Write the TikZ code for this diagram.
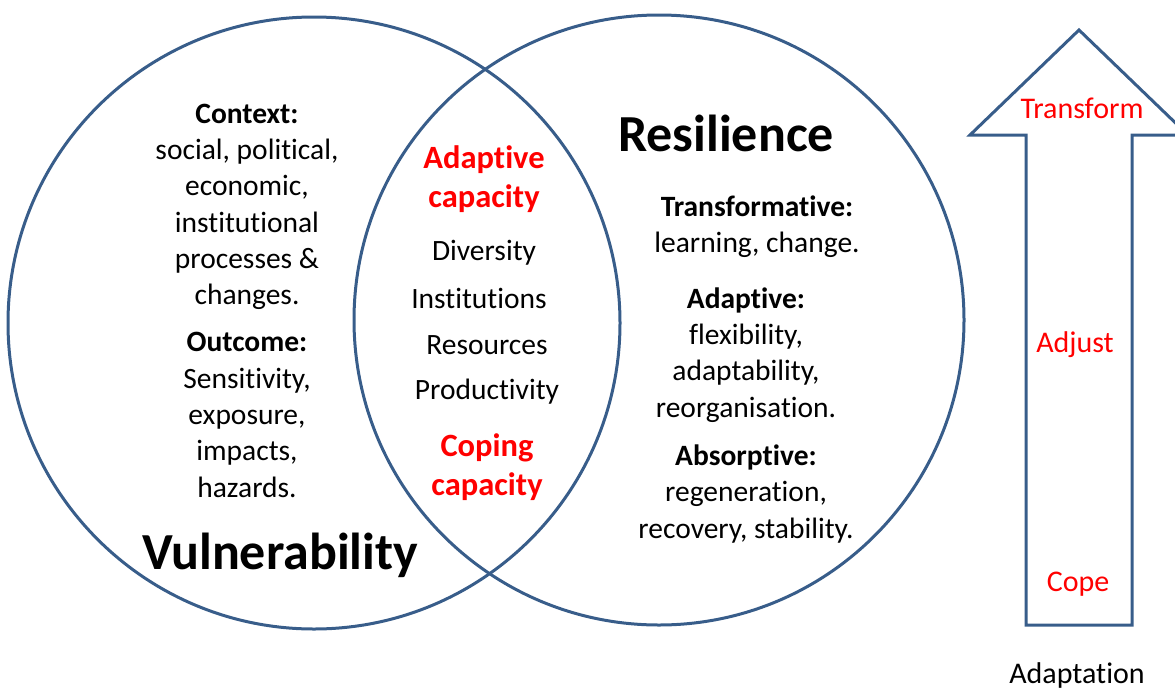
\documentclass[tikz,border=0pt]{standalone}
\usepackage{fontspec}
\setmainfont{Carlito}[Ligatures=NoCommon]
\usetikzlibrary{positioning}
\definecolor{vennblue}{RGB}{56,93,138}
\definecolor{capred}{RGB}{255,0,0}

\begin{document}
\begin{tikzpicture}[x=1pt, y=-1pt,
    venn/.style={draw=vennblue, line width=3pt},
    txt/.style={align=center, inner sep=0pt, font=\fontsize{29.5}{36.3}\selectfont},
    head/.style={inner sep=0pt, font=\fontsize{52}{60}\selectfont\bfseries},
    capred/.style={align=center, inner sep=0pt, text=capred, font=\fontsize{32.5}{39.5}\selectfont\bfseries},
    level/.style={inner sep=0pt, font=\fontsize{30}{36}\selectfont}]
      \useasboundingbox (0, 0) rectangle (1175, 691);
      \clip (0, 0) rectangle (1175, 691);

      % the two sets
      \draw[venn] (314, 323) circle (306pt);
      \draw[venn] (659, 320) circle (305pt);

      % adaptation arrow
      \draw[venn, line join=miter] (1079, 30) -- (1188, 135) -- (1132, 135) -- (1132, 625)
        -- (1026, 625) -- (1026, 135) -- (970, 135) -- cycle;

      % vulnerability side
      \node[txt] (context) at (247, 207) {\textbf{Context:}\\ social, political,\\ economic,\\ institutional\\ processes \&\\ changes.};
      \node[txt] (outcome) at (247, 415) {\textbf{Outcome:}\\ Sensitivity,\\ exposure,\\ impacts,\\ hazards.};
      \node[head] (vuln) at (280, 555) {Vulnerability};

      % overlap
      \node[capred] (adcap) at (484, 179) {Adaptive\\ capacity};
      \node[txt] (diversity) at (484, 253) {Diversity};
      \node[txt] (instit) at (479, 298) {Institutions};
      \node[txt] (resources) at (487, 345) {Resources};
      \node[txt] (product) at (487, 392) {Productivity};
      \node[capred] (copcap) at (487, 467) {Coping\\ capacity};

      % resilience side
      \node[head] (resil) at (726, 133) {Resilience};
      \node[txt] (transf) at (757, 227) {\textbf{Transformative:}\\ learning, change.};
      \node[txt] (adapt) at (746, 355) {\textbf{Adaptive:}\\ flexibility,\\ adaptability,\\ reorganisation.};
      \node[txt] (absorb) at (746, 494) {\textbf{Absorptive:}\\ regeneration,\\ recovery, stability.};

      % levels on the arrow
      \node[level, text=capred] (transform) at (1082, 108) {Transform};
      \node[level, text=capred] (adjust) at (1075, 345) {Adjust};
      \node[level, text=capred] (cope) at (1078, 584) {Cope};
      \node[level] (adaptation) at (1077, 675) {Adaptation};
\end{tikzpicture}
\end{document}
